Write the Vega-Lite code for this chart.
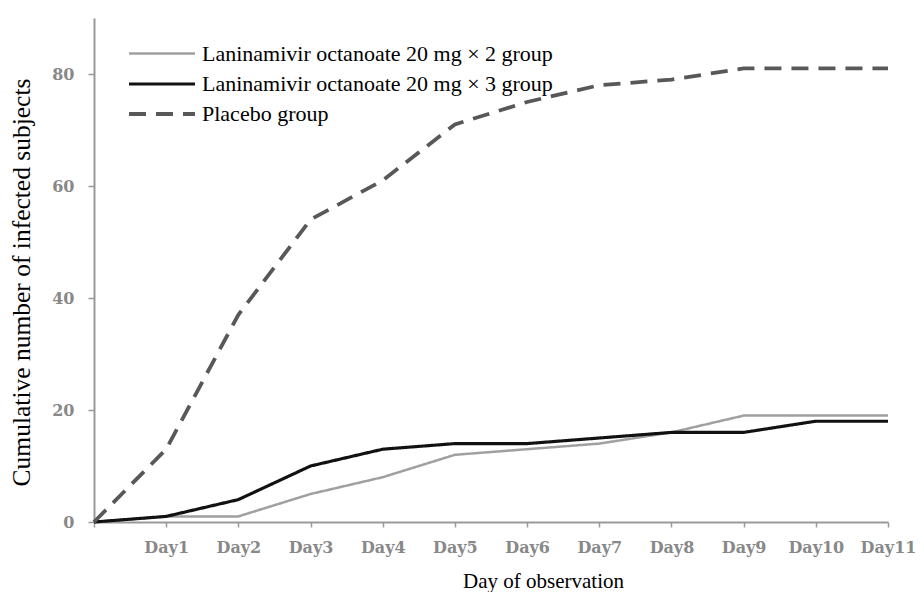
{
  "$schema": "https://vega.github.io/schema/vega-lite/v6.json",
  "width": 794,
  "height": 504,
  "autosize": {"type": "none"},
  "padding": {"left": 94, "top": 18, "right": 32, "bottom": 70},
  "background": "white",
  "config": {
    "view": {"stroke": null},
    "legend": {
      "title": null,
      "orient": "none",
      "legendX": 55,
      "legendY": 23,
      "padding": 0,
      "symbolType": "M-3,0H3",
      "symbolSize": 484,
      "labelFont": "Liberation Serif",
      "labelFontSize": 22,
      "labelColor": "#000",
      "labelOffset": 27,
      "rowPadding": 6,
      "labelLimit": 600
    }
  },
  "data": {
    "values": [
      {"day": 0, "group": "Laninamivir octanoate 20 mg × 2 group", "n": 0},
      {"day": 1, "group": "Laninamivir octanoate 20 mg × 2 group", "n": 1},
      {"day": 2, "group": "Laninamivir octanoate 20 mg × 2 group", "n": 1},
      {"day": 3, "group": "Laninamivir octanoate 20 mg × 2 group", "n": 5},
      {"day": 4, "group": "Laninamivir octanoate 20 mg × 2 group", "n": 8},
      {"day": 5, "group": "Laninamivir octanoate 20 mg × 2 group", "n": 12},
      {"day": 6, "group": "Laninamivir octanoate 20 mg × 2 group", "n": 13},
      {"day": 7, "group": "Laninamivir octanoate 20 mg × 2 group", "n": 14},
      {"day": 8, "group": "Laninamivir octanoate 20 mg × 2 group", "n": 16},
      {"day": 9, "group": "Laninamivir octanoate 20 mg × 2 group", "n": 19},
      {"day": 10, "group": "Laninamivir octanoate 20 mg × 2 group", "n": 19},
      {"day": 11, "group": "Laninamivir octanoate 20 mg × 2 group", "n": 19},
      {"day": 0, "group": "Laninamivir octanoate 20 mg × 3 group", "n": 0},
      {"day": 1, "group": "Laninamivir octanoate 20 mg × 3 group", "n": 1},
      {"day": 2, "group": "Laninamivir octanoate 20 mg × 3 group", "n": 4},
      {"day": 3, "group": "Laninamivir octanoate 20 mg × 3 group", "n": 10},
      {"day": 4, "group": "Laninamivir octanoate 20 mg × 3 group", "n": 13},
      {"day": 5, "group": "Laninamivir octanoate 20 mg × 3 group", "n": 14},
      {"day": 6, "group": "Laninamivir octanoate 20 mg × 3 group", "n": 14},
      {"day": 7, "group": "Laninamivir octanoate 20 mg × 3 group", "n": 15},
      {"day": 8, "group": "Laninamivir octanoate 20 mg × 3 group", "n": 16},
      {"day": 9, "group": "Laninamivir octanoate 20 mg × 3 group", "n": 16},
      {"day": 10, "group": "Laninamivir octanoate 20 mg × 3 group", "n": 18},
      {"day": 11, "group": "Laninamivir octanoate 20 mg × 3 group", "n": 18},
      {"day": 0, "group": "Placebo group", "n": 0},
      {"day": 1, "group": "Placebo group", "n": 13},
      {"day": 2, "group": "Placebo group", "n": 37},
      {"day": 3, "group": "Placebo group", "n": 54},
      {"day": 4, "group": "Placebo group", "n": 61},
      {"day": 5, "group": "Placebo group", "n": 71},
      {"day": 6, "group": "Placebo group", "n": 75},
      {"day": 7, "group": "Placebo group", "n": 78},
      {"day": 8, "group": "Placebo group", "n": 79},
      {"day": 9, "group": "Placebo group", "n": 81},
      {"day": 10, "group": "Placebo group", "n": 81},
      {"day": 11, "group": "Placebo group", "n": 81}
    ]
  },
  "mark": {"type": "line", "strokeCap": "butt"},
  "encoding": {
    "x": {
      "field": "day",
      "type": "quantitative",
      "scale": {"domain": [0, 11], "nice": false, "zero": false},
      "axis": {
        "values": [0, 1, 2, 3, 4, 5, 6, 7, 8, 9, 10, 11],
        "labelExpr": "datum.value == 0 ? '' : 'Day' + datum.value",
        "title": "Day of observation",
        "titleFont": "Liberation Serif",
        "titleFontSize": 21,
        "titleFontWeight": "normal",
        "titleColor": "#000",
        "titleX": 449,
        "titleY": 48,
        "titleAlign": "center",
        "titleBaseline": "top",
        "labelFont": "DejaVu Serif",
        "labelFontWeight": "bold",
        "labelFontSize": 16,
        "labelColor": "#888",
        "labelPadding": 12,
        "labelFlush": false,
        "labelOverlap": false,
        "domainColor": "#999",
        "domainWidth": 2,
        "tickColor": "#999",
        "tickWidth": 1.5,
        "tickSize": 5,
        "grid": false
      }
    },
    "y": {
      "field": "n",
      "type": "quantitative",
      "scale": {"domain": [0, 90], "nice": false},
      "axis": {
        "values": [0, 20, 40, 60, 80],
        "title": "Cumulative number of infected subjects",
        "titleFont": "Liberation Serif",
        "titleFontSize": 25.5,
        "titleFontWeight": "normal",
        "titleColor": "#000",
        "titleX": -73,
        "titleY": 264,
        "titleAngle": -90,
        "titleAlign": "center",
        "titleBaseline": "middle",
        "labelFont": "DejaVu Serif",
        "labelFontWeight": "bold",
        "labelFontSize": 16,
        "labelColor": "#888",
        "labelPadding": 14,
        "domainColor": "#999",
        "domainWidth": 2,
        "tickColor": "#999",
        "tickWidth": 1.5,
        "tickSize": 6,
        "grid": false
      }
    },
    "color": {
      "field": "group",
      "type": "nominal",
      "scale": {
        "domain": ["Laninamivir octanoate 20 mg × 2 group", "Laninamivir octanoate 20 mg × 3 group", "Placebo group"],
        "range": ["#a0a0a0", "#111111", "#585858"]
      }
    },
    "strokeDash": {
      "field": "group",
      "type": "nominal",
      "scale": {
        "domain": ["Laninamivir octanoate 20 mg × 2 group", "Laninamivir octanoate 20 mg × 3 group", "Placebo group"],
        "range": [[1, 0], [1, 0], [17, 10]]
      }
    },
    "strokeWidth": {
      "field": "group",
      "type": "nominal",
      "scale": {
        "domain": ["Laninamivir octanoate 20 mg × 2 group", "Laninamivir octanoate 20 mg × 3 group", "Placebo group"],
        "range": [2.5, 3.8, 3.5]
      }
    }
  }
}
